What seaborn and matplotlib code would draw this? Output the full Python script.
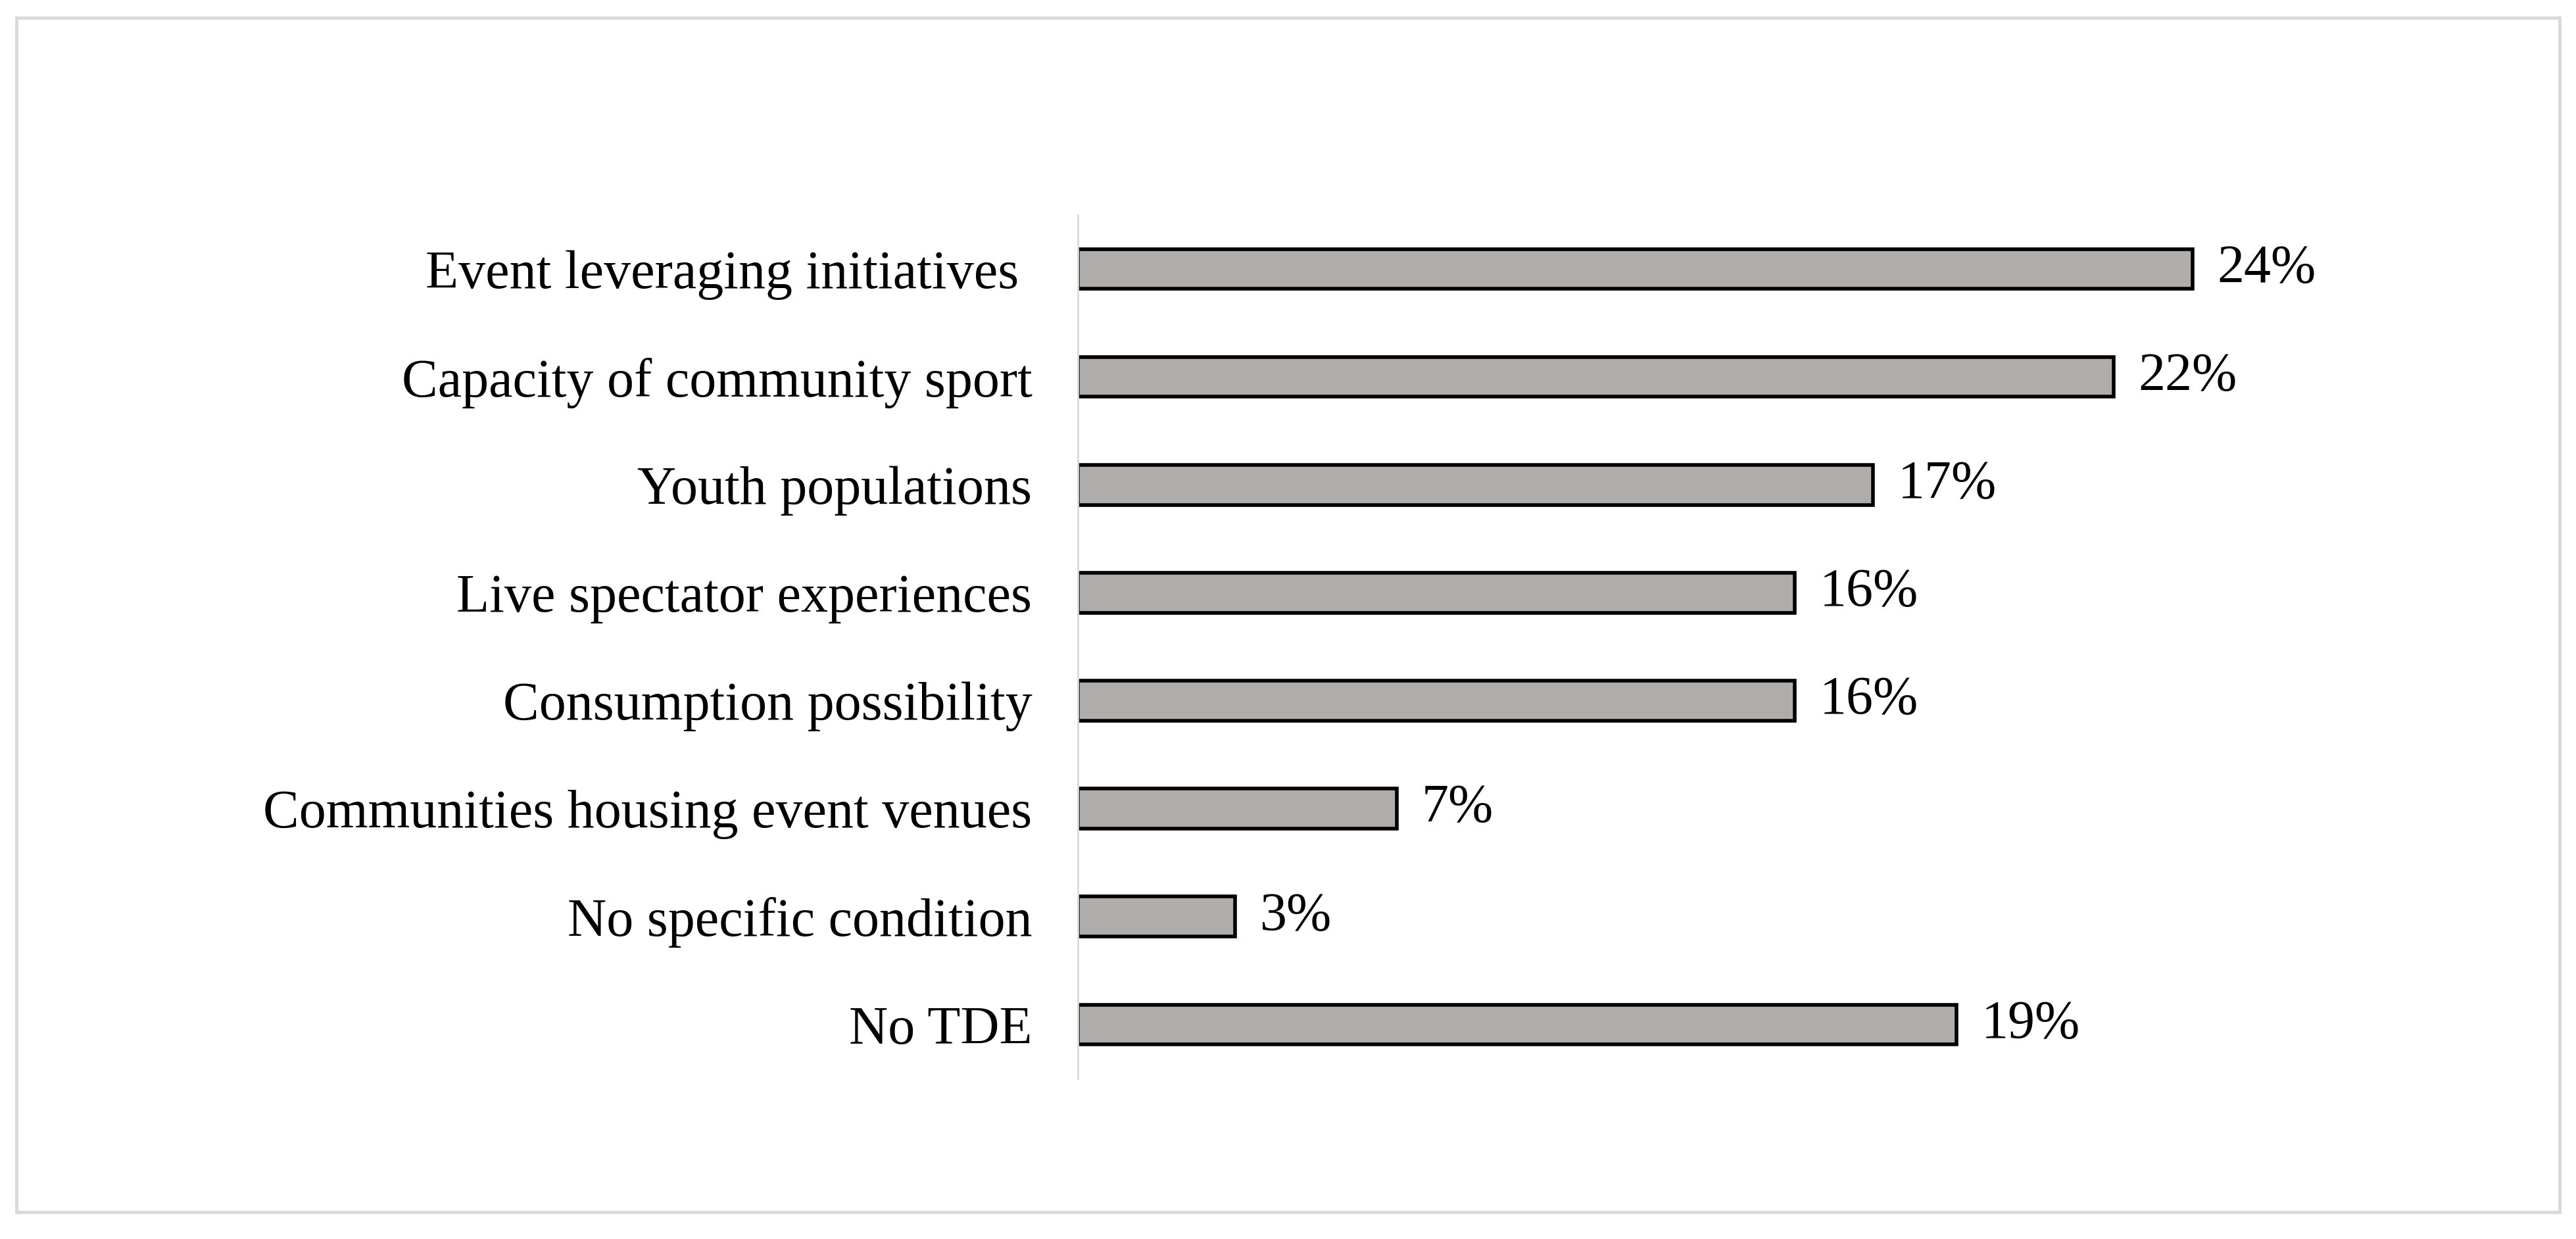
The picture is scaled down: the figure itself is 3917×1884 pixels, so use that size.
# Horizontal bar chart of conditions for TDE
import pandas as pd
import seaborn as sns
import matplotlib.pyplot as plt
from matplotlib.patches import Rectangle

conditions = [
    'Event leveraging initiatives ',
    'Capacity of community sport',
    'Youth populations',
    'Live spectator experiences',
    'Consumption possibility',
    'Communities housing event venues',
    'No specific condition',
    'No TDE',
]
shares = [24.1, 22.4, 17.2, 15.5, 15.5, 6.9, 3.4, 19.0]
share_labels = ['24%', '22%', '17%', '16%', '16%', '7%', '3%', '19%']

df = pd.DataFrame({'condition': conditions, 'share': shares})

sns.set_style('white')
plt.rcParams['font.family'] = ['Liberation Serif', 'DejaVu Serif']
plt.rcParams['text.color'] = 'black'
plt.rcParams['ytick.color'] = 'black'

fig = plt.figure(figsize=(39.17, 18.84), dpi=100)
ax = fig.add_axes([0.4184, 0.1295, 0.5386, 0.697])

sns.barplot(data=df, x='share', y='condition', orient='h', color='#b0aca9',
            edgecolor='black', linewidth=4, width=0.37, saturation=1, ax=ax)

ax.bar_label(ax.containers[0], labels=share_labels, padding=27, fontsize=59,
             color='black')

ax.set_xlim(0, 30)
ax.set_ylim(7.5, -0.5)
ax.set_xlabel('')
ax.set_ylabel('')
ax.set_xticks([])
ax.tick_params(axis='y', length=0, pad=50, labelsize=59, labelcolor='black')
for side in ['top', 'right', 'bottom']:
    ax.spines[side].set_visible(False)
ax.spines['left'].set_color('#d9d9d9')
ax.spines['left'].set_linewidth(2)

# light grey frame around the whole chart
fig.patches.append(Rectangle((25 / 3917, 1 - 1843 / 1884), (3892 - 25) / 3917, (1843 - 27) / 1884,
                             transform=fig.transFigure, fill=False,
                             edgecolor='#d9d9d9', linewidth=3.5))

fig.savefig('out.png', dpi=100)
